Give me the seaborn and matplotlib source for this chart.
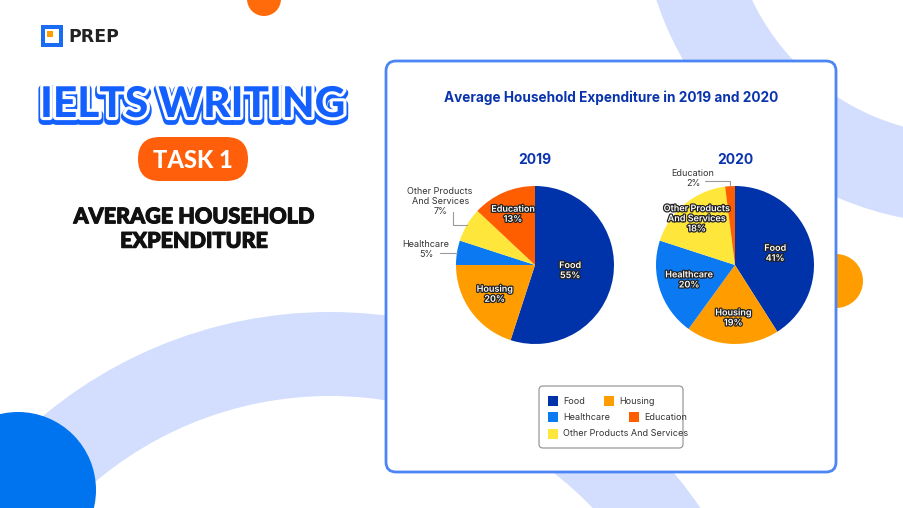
import matplotlib
matplotlib.use("Agg")
import matplotlib.pyplot as plt
import matplotlib.patheffects as pe
from matplotlib.patches import Wedge, Circle, Rectangle, FancyBboxPatch
import numpy as np
import seaborn as sns

# data
categories = ['Food', 'Housing', 'Healthcare', 'Other Products And Services', 'Education']
slice_names = ['Food', 'Housing', 'Healthcare', 'Other Products\nAnd Services', 'Education']
share_2019 = [55, 20, 5, 7, 13]
share_2020 = [41, 19, 20, 18, 2]
years = ['2019', '2020']
legend_rows = [['Food', 'Housing'], ['Healthcare', 'Education'], ['Other Products And Services']]

sns.set_theme(style='white')
plt.rcParams['font.family'] = ['Inter', 'DejaVu Sans']

colors = sns.color_palette(['#0033AA', '#FF9D00', '#0A79F2', '#FFE63A', '#FF5E00'])
col = dict(zip(categories, colors))

W, H = 904, 508
fig = plt.figure(figsize=(W / 100, H / 100), dpi=100)
bg = fig.add_axes([0, 0, 1, 1])
bg.set_xlim(0, W)
bg.set_ylim(H, 0)
bg.axis('off')

# background decoration
lav = '#D3DEFE'
bg.add_patch(Wedge((966, -102), 326, 0, 360, width=89, color=lav, lw=0, zorder=1))
bg.add_patch(Wedge((330, 760), 448, 0, 360, width=84, color=lav, lw=0, zorder=1))
bg.add_patch(Circle((18, 490), 78, color='#0073EE', lw=0, zorder=2))
bg.add_patch(Circle((264, -1), 17, color='#FF6A0A', lw=0, zorder=2))
bg.add_patch(Circle((836, 281), 27, color='#FF9C00', lw=0, zorder=2))

# logo
bg.add_patch(Rectangle((41, 25), 22, 22, color='#1A6CF5', lw=0, zorder=3))
bg.add_patch(Rectangle((45, 29), 14, 14, color='white', lw=0, zorder=4))
bg.add_patch(Rectangle((41, 29), 4, 18, color='#1A6CF5', lw=0, zorder=4))
bg.add_patch(Rectangle((47, 31), 6, 6, color='#FF9C00', lw=0, zorder=5))
bg.text(68, 37, 'PREP', fontsize=12.5, fontweight='bold', color='#222222',
        va='center', ha='left', family=['DejaVu Sans'], zorder=5)

# left headline
blue = '#1360FF'
bg.text(193, 105, 'IELTS WRITING', fontsize=30.5, fontweight='black', color=blue,
        ha='center', va='center', family=['Lato', 'DejaVu Sans'], zorder=5,
        path_effects=[pe.Stroke(linewidth=7, foreground=blue, offset=(0, -2.2)),
                      pe.Stroke(linewidth=4.5, foreground='white'), pe.Normal()])
bg.add_patch(FancyBboxPatch((138, 137), 110, 44, boxstyle='round,pad=0,rounding_size=22',
                            fc='#FF5F0A', ec='none', zorder=5))
bg.text(193, 160, 'TASK 1', fontsize=17, fontweight='black', color='white',
        ha='center', va='center', family=['Lato', 'DejaVu Sans'], zorder=6)
bg.text(194, 229, 'AVERAGE HOUSEHOLD\nEXPENDITURE', fontsize=15.5, fontweight='black',
        color='#111111', ha='center', va='center', linespacing=1.2,
        family=['Lato', 'DejaVu Sans'], zorder=6,
        path_effects=[pe.withStroke(linewidth=0.8, foreground='#111111')])

# card
bg.add_patch(FancyBboxPatch((386, 61), 450, 411, boxstyle='round,pad=0,rounding_size=10',
                            fc='white', ec='#4D85F5', lw=2, zorder=7))
bg.text(611, 98, 'Average Household Expenditure in 2019 and 2020', fontsize=9.8,
        fontweight='bold', color='#0A34AE', ha='center', va='center', zorder=8)

# pies
centers = {'2019': (535, 265), '2020': (735, 265)}
R = 79
inside_r = {'2019': [0.45, 0.63, None, None, 0.70],
            '2020': [0.53, 0.67, 0.61, 0.76, None]}
# leader lines for outside labels: path offsets from slice edge, text offset (units of radius)
outside = {('2019', 2): ([(-0.215, 0)], (-0.39, 0.04)),
           ('2019', 3): ([(-0.18, 0), (-0.18, 0.165)], (-0.34, 0.29)),
           ('2020', 4): ([(0, 0.063), (-0.32, 0.063)], (-0.47, 0.10))}

for yr, vals in zip(years, [share_2019, share_2020]):
    cx, cy = centers[yr]
    ax = fig.add_axes([(cx - R) / W, (H - cy - R) / H, 2 * R / W, 2 * R / H])
    wedges, _ = ax.pie(vals, colors=colors, startangle=90, counterclock=False,
                       wedgeprops=dict(linewidth=0))
    ax.set_xlim(-1, 1)
    ax.set_ylim(-1, 1)
    ax.set_aspect('auto')
    ax.axis('off')
    ax.text(0, 1.33, yr, fontsize=10, fontweight='bold', color='#0A34AE',
            ha='center', va='center')
    for i, w in enumerate(wedges):
        mid = np.deg2rad((w.theta1 + w.theta2) / 2)
        lab = f'{slice_names[i]}\n{vals[i]}%'
        r = inside_r[yr][i]
        if r is not None:
            ax.text(r * np.cos(mid), r * np.sin(mid), lab, fontsize=6.5, color='white',
                    ha='center', va='center', linespacing=1.15, fontweight='semibold',
                    path_effects=[pe.withStroke(linewidth=1.8, foreground='#222222')])
        else:
            path, toff = outside[(yr, i)]
            ex, ey = np.cos(mid), np.sin(mid)
            xs = [ex] + [ex + p[0] for p in path]
            ys = [ey] + [ey + p[1] for p in path]
            ax.plot(xs, ys, color='#9A9A9A', lw=0.8, clip_on=False)
            ax.text(ex + toff[0], ey + toff[1], lab, fontsize=6.5, color='#333333',
                    ha='center', va='center', linespacing=1.15)

# legend, drawn as a flow layout in pixel space
bg.add_patch(FancyBboxPatch((539, 386), 144, 62, boxstyle='round,pad=0,rounding_size=4',
                            fc='white', ec='#999999', lw=0.9, zorder=9))
renderer = fig.canvas.get_renderer()
row_y = [401, 417, 434]
for ry, row in zip(row_y, legend_rows):
    x = 548
    for name in row:
        bg.add_patch(Rectangle((x, ry - 5), 10, 10, color=col[name], lw=0, zorder=10))
        t = bg.text(x + 15, ry, name, fontsize=6.5, color='#333333', ha='left',
                    va='center', zorder=10)
        x = t.get_window_extent(renderer).x1 + 19

fig.savefig('out.png', dpi=100)
